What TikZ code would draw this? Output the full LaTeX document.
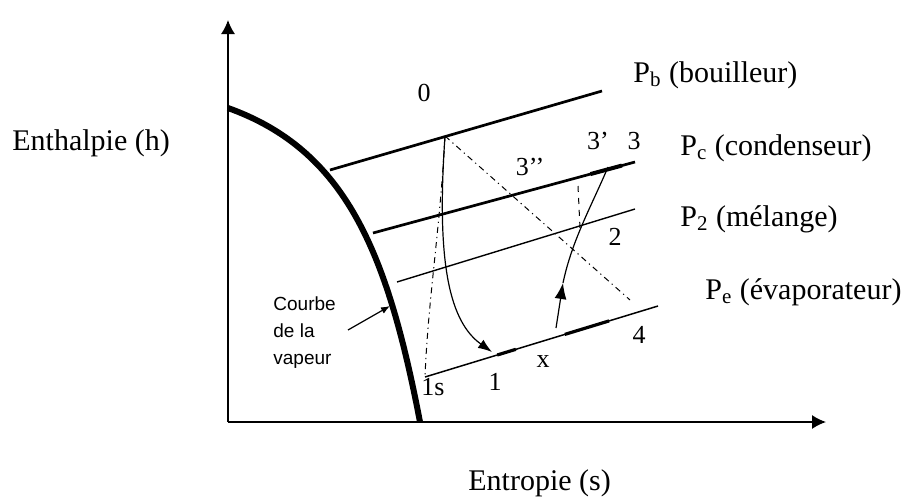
\documentclass[tikz,border=0pt]{standalone}
\usepackage{fontspec}
\setmainfont{Liberation Serif}
\newfontfamily\sansfont{Liberation Sans}
\usetikzlibrary{arrows.meta,calc}

\tikzset{
  isobar/.style={line width=1.35pt},
  isobarthin/.style={line width=0.7pt},
  dashdotline/.style={line width=0.5pt, dash pattern=on 3pt off 2pt on 0.6pt off 2pt},
  ptlabel/.style={font=\fontsize{13}{15}\selectfont, inner sep=0pt},
  axlabel/.style={font=\fontsize{15}{18}\selectfont, inner sep=0pt, anchor=west}
}

\begin{document}
\begin{tikzpicture}[x=0.5pt,y=-0.5pt]
  \useasboundingbox (0,0) rectangle (914,498);
  % Axes
  \coordinate (O) at (228,422);
  \coordinate (ytip) at (228,20);
  \coordinate (xtip) at (826,422);
  \draw[line width=0.75pt,-{Latex[length=7pt,width=7pt]}] (O) -- (ytip);
  \draw[line width=0.75pt,-{Latex[length=7pt,width=7pt]}] (O) -- (xtip);
  % Vapour curve
  \coordinate (vtop) at (228,108);
  \coordinate (vbot) at (420,422);
  \draw[line width=3pt] (vtop) .. controls (345,150) and (387,250) .. (vbot);
  % Isobars
  \coordinate (pbA) at (330,170);  \coordinate (pbB) at (602,91);
  \coordinate (pcA) at (373,233);  \coordinate (pcB) at (635,162);
  \coordinate (ptA) at (397,282);  \coordinate (ptB) at (635,209);
  \coordinate (peA) at (425,377);  \coordinate (peB) at (658,306);
  \draw[isobar] (pbA) -- (pbB);
  \draw[isobar] (pcA) -- (pcB);
  \draw[isobarthin] (ptA) -- (ptB);
  \draw[line width=0.75pt] (peA) -- (peB);
  \draw[line width=2pt] ($(pcA)!0.83!(pcB)$) -- ($(pcA)!0.95!(pcB)$);
  \draw[line width=1.6pt] ($(peA)!0.31!(peB)$) -- ($(peA)!0.39!(peB)$);
  \draw[line width=1.6pt] ($(peA)!0.60!(peB)$) -- ($(peA)!0.79!(peB)$);
  % Cycle points
  \coordinate (p0) at (445,136);
  \coordinate (p1s) at (425,377);
  \coordinate (p1) at (492,352);
  \coordinate (px) at (556,328);
  \coordinate (pup) at (563,283);
  \coordinate (p2) at (580,228);
  \coordinate (p3pp) at (578,186);
  \coordinate (p3p) at (608,167);
  \coordinate (pend) at (630,300);
  \draw[line width=0.6pt,-{Latex[length=7pt,width=5pt]}]
    (p0) .. controls (436,265) and (450,322) .. (p1);
  \draw[dashdotline] (p0) .. controls (440,230) and (428,300) .. (p1s);
  \draw[dashdotline] (p0) -- (pend);
  \draw[line width=0.5pt,dashed] (p3pp) -- (p2);
  \draw[line width=0.6pt,-{Latex[length=8pt,width=6pt]}] (px) -- (pup);
  \draw[line width=0.6pt] (pup) .. controls (572,240) and (592,205) .. (p3p);
  % Point labels
  \foreach \t/\p in {0/{(424,93)}, 3\textquoteright\textquoteright/{(530,167)},
                     3\textquoteright/{(598,141)}, 3/{(634,141)}, 2/{(615,237)},
                     4/{(639,335)}, x/{(543,362)}, 1/{(495,382)}, 1s/{(433,387)}}{
    \node[ptlabel] at \p {\t};
  }
  % Pressure labels
  \node[axlabel] (Pb) at (633,75) {P\textsubscript{b} (bouilleur)};
  \node[axlabel] (Pc) at (680,148) {P\textsubscript{c} (condenseur)};
  \node[axlabel] (P2) at (680,219) {P\textsubscript{2} (mélange)};
  \node[axlabel] (Pe) at (705,292) {P\textsubscript{e} (évaporateur)};
  \node[axlabel] (hlab) at (12,143) {Enthalpie (h)};
  \node[axlabel] (slab) at (468,483) {Entropie (s)};
  % Vapour curve label
  \node[font=\sansfont\fontsize{9.5}{13.5}\selectfont, align=left, inner sep=0pt,
        anchor=west] (courbe) at (273,333) {Courbe\\de la\\vapeur};
  \coordinate (ctail) at (348,330);
  \coordinate (chead) at (390,306);
  \draw[line width=0.6pt,-{Latex[length=4.5pt,width=3.5pt]}] (ctail) -- (chead);
\end{tikzpicture}
\end{document}
